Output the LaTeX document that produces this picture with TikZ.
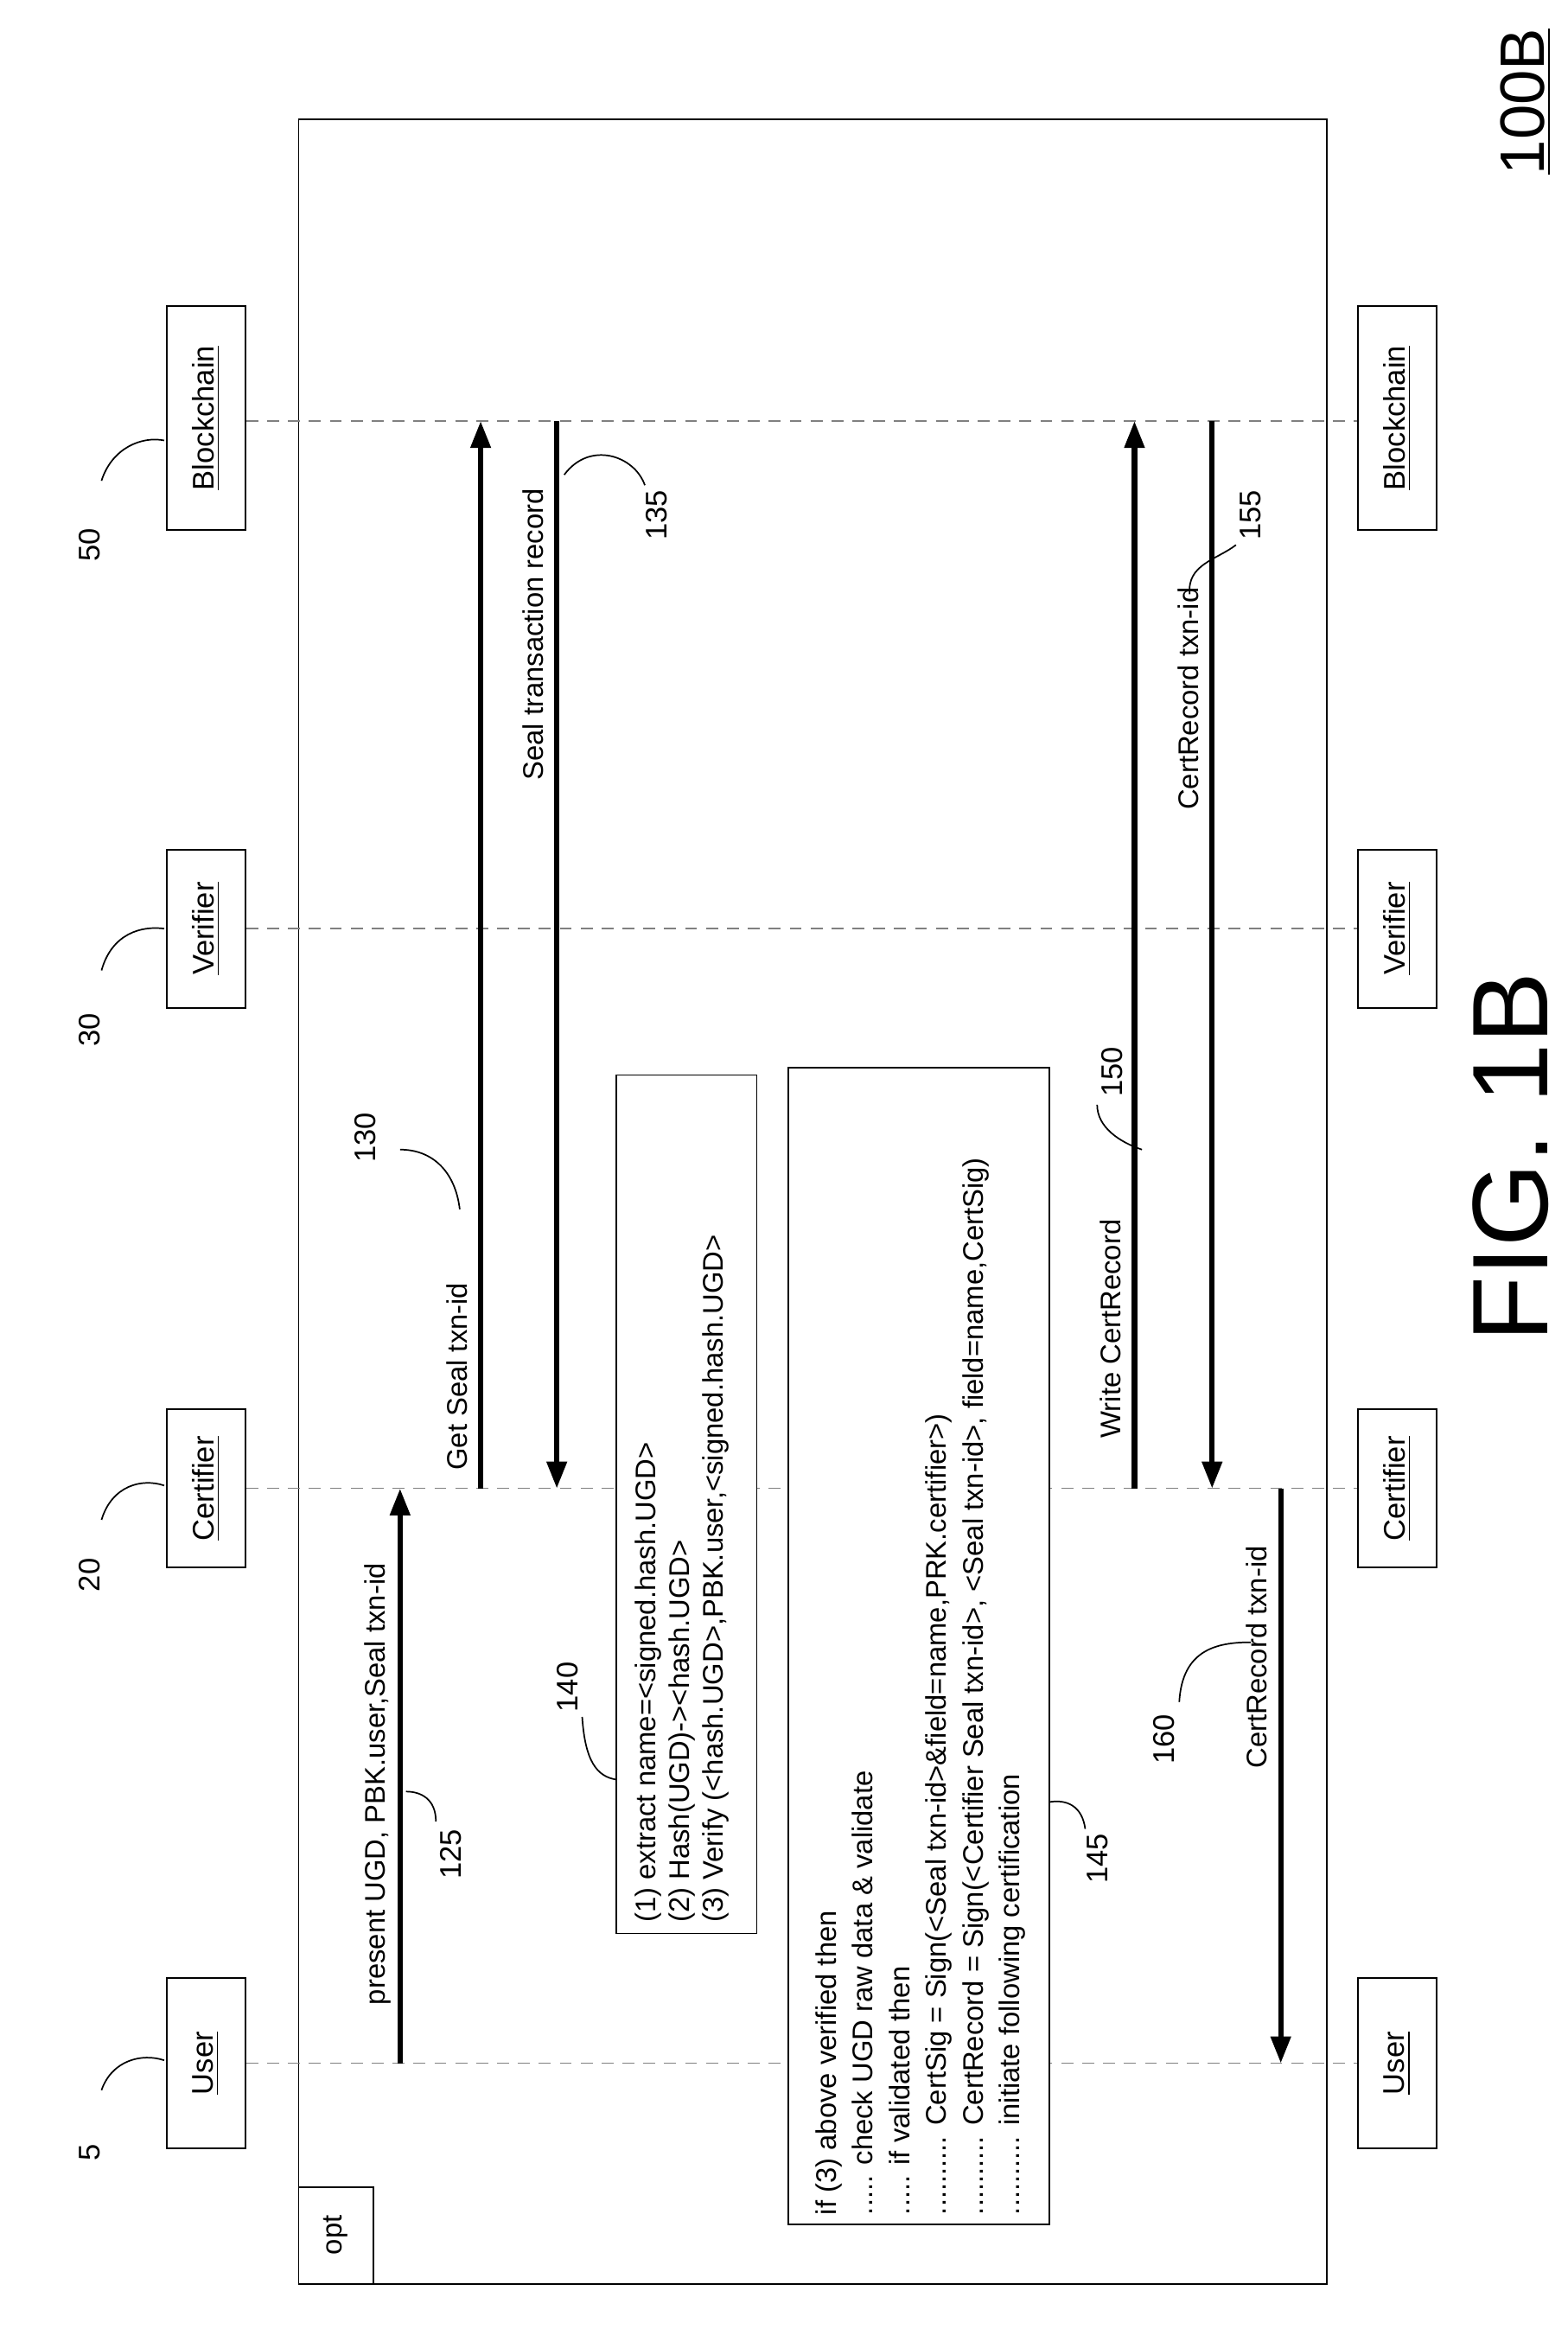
\documentclass[tikz,border=0pt]{standalone}
\usepackage{fontspec}
\setmainfont{Liberation Sans}
\usetikzlibrary{arrows.meta}
\begin{document}
\begin{tikzpicture}[x=0.5pt,y=-0.5pt,
  part/.style={draw,line width=0.6pt,rotate=90,minimum height=26.5pt,inner sep=0pt,font=\fontsize{10}{12}\selectfont},
  life/.style={dashed,gray,line width=0.4pt,dash pattern=on 4pt off 3pt},
  msg/.style={line width=1.8pt,-{Triangle[length=9pt,width=6.5pt]}},
  lbl/.style={rotate=90,font=\fontsize{9.5}{11.5}\selectfont,inner sep=0pt},
  num/.style={rotate=90,font=\fontsize{10}{12}\selectfont,inner sep=0pt},
  lead/.style={line width=0.5pt},
  note/.style={rotate=90,align=left,anchor=north west,inner sep=0pt}]
\useasboundingbox (0,0) rectangle (1050,1560);
\fill[white] (0,0) rectangle (1050,1560);
% frame
\draw[line width=0.5pt] (200,80) rectangle (889,1530);
\draw[line width=0.5pt] (200,1465) -- (250,1465) -- (250,1530);
\node[lbl] (opt) at (225,1497) {opt};
% title
\node[rotate=90,font=\fontsize{21}{24}\selectfont] (title) at (1022,68) {\underline{100B}};
\node[rotate=90,font=\fontsize{36}{42}\selectfont] (fig) at (1012,775) {FIG. 1B};
% lifelines
\foreach \y/\n in {1382/u,997/c,622/v,282/b}{
  \coordinate (L\n) at (165,\y); \coordinate (R\n) at (910,\y);
  \draw[life] (L\n) -- (R\n);}
% participants
\foreach \x/\s in {138/l,936/r}{
  \node[part,minimum width=57pt] (user\s) at (\x,1382) {\underline{User}};
  \node[part,minimum width=53pt] (cert\s) at (\x,997) {\underline{Certifier}};
  \node[part,minimum width=53pt] (ver\s) at (\x,622) {\underline{Verifier}};
  \node[part,minimum width=75pt] (bc\s) at (\x,280) {\underline{Blockchain}};}
% numbers
\node[num] (n5) at (60,1442) {5};
\node[num] (n20) at (60,1055) {20};
\node[num] (n30) at (60,690) {30};
\node[num] (n50) at (60,365) {50};
\draw[lead] (68,1400) .. controls (75,1380) and (95,1375) .. (110,1380);
\draw[lead] (68,1018) .. controls (75,995) and (95,990) .. (110,995);
\draw[lead] (68,650) .. controls (75,625) and (95,620) .. (110,622);
\draw[lead] (68,322) .. controls (75,300) and (95,292) .. (110,295);
% messages
\coordinate (a125s) at (268,1382); \coordinate (a125e) at (268,997);
\draw[msg] (a125s) -- (a125e);
\node[lbl] (t125) at (253,1195) {present UGD, PBK.user,Seal txn-id};
\node[num] (n125) at (302,1242) {125};
\draw[lead] (292,1220) .. controls (292,1205) and (282,1200) .. (272,1200);

\coordinate (a130s) at (322,997); \coordinate (a130e) at (322,282);
\draw[msg] (a130s) -- (a130e);
\node[lbl] (t130) at (306,922) {Get Seal txn-id};
\node[num] (n130) at (245,762) {130};
\draw[lead] (268,770) .. controls (290,770) and (305,785) .. (308,810);

\coordinate (a135s) at (373,282); \coordinate (a135e) at (373,997);
\draw[msg] (a135s) -- (a135e);
\node[lbl] (t135) at (357,425) {Seal transaction record};
\node[num] (n135) at (440,345) {135};
\draw[lead] (432,325) .. controls (425,305) and (395,295) .. (378,318);

\coordinate (a150s) at (760,997); \coordinate (a150e) at (760,282);
\draw[msg] (a150s) -- (a150e);
\node[lbl] (t150) at (744,890) {Write CertRecord};
\node[num] (n150) at (745,718) {150};
\draw[lead] (735,740) .. controls (735,755) and (750,765) .. (765,770);

\coordinate (a155s) at (812,282); \coordinate (a155e) at (812,997);
\draw[msg] (a155s) -- (a155e);
\node[lbl] (t155) at (796,468) {CertRecord txn-id};
\node[num] (n155) at (838,345) {155};
\draw[lead] (828,365) .. controls (815,375) and (795,378) .. (797,398);

\coordinate (a160s) at (858,997); \coordinate (a160e) at (858,1382);
\draw[msg] (a160s) -- (a160e);
\node[lbl] (t160) at (842,1110) {CertRecord txn-id};
\node[num] (n160) at (780,1165) {160};
\draw[lead] (790,1140) .. controls (792,1105) and (815,1100) .. (838,1100);
% note 140
\draw[line width=0.5pt,fill=white] (413,720) rectangle (507,1295);
\node[note,font=\fontsize{9.5}{11.3}\selectfont] (box140) at (425,1288) {(1) extract name=<signed.hash.UGD>\\(2) Hash(UGD)->{}<hash.UGD>\\(3) Verify (<hash.UGD>,PBK.user,<signed.hash.UGD>};
\node[num] (n140) at (380,1130) {140};
\draw[lead] (390,1150) .. controls (392,1180) and (400,1190) .. (413,1192);
% note 145
\draw[line width=0.5pt,fill=white] (528,715) rectangle (703,1490);
\node[note,font=\fontsize{9.5}{12.3}\selectfont] (box145) at (546,1484) {if (3) above verified then\\
..... check UGD raw data \& validate\\
..... if validated then\\
.......... CertSig = Sign(<Seal txn-id>\&field=name,PRK.certifier>)\\
.......... CertRecord = Sign(<Certifier Seal txn-id>, <Seal txn-id>, field=name,CertSig)\\
.......... initiate following certification};
\node[num] (n145) at (735,1245) {145};
\draw[lead] (727,1225) .. controls (725,1210) and (715,1205) .. (703,1207);
\end{tikzpicture}
\end{document}
